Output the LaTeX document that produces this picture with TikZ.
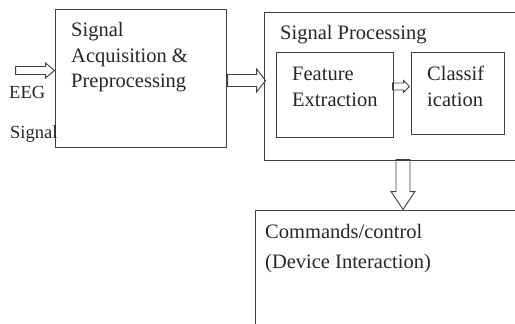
\documentclass[tikz,border=0pt]{standalone}
\usepackage{fontspec}
\setmainfont{Liberation Serif}
\begin{document}
\begin{tikzpicture}[x=1pt,y=-1pt,
  box/.style={draw=black!75, line width=0.9pt, inner sep=0pt, rectangle},
  txt/.style={anchor=base west, inner sep=0pt, text=black!85, font=\fontsize{20.5}{24}\selectfont},
  small/.style={anchor=base west, inner sep=0pt, text=black!85, font=\fontsize{18.5}{22}\selectfont},
  hollow/.style={draw=black!75, line width=0.9pt, line join=miter}]
\useasboundingbox (0,0) rectangle (515,324);
\clip (0,0) rectangle (515,324);
% boxes
\node[box, minimum width=171pt, minimum height=138pt] (b1) at (140.5,78) {};
\node[box, minimum width=266pt, minimum height=148pt] (b2) at (397,86) {};
\node[box, minimum width=117pt, minimum height=85pt] (fe) at (334.5,94.5) {};
\node[box, minimum width=93pt, minimum height=82pt] (cl) at (457.5,93) {};
\node[box, minimum width=275pt, minimum height=120pt] (b3) at (392.5,270) {};
% texts
\node[txt] (t1a) at (71,37) {Signal};
\node[txt] (t1b) at (71,63) {Acquisition \&};
\node[txt] (t1c) at (71,87) {Preprocessing};
\node[txt] (t2) at (280,39) {Signal Processing};
\node[txt] (t3a) at (292,80) {Feature};
\node[txt] (t3b) at (292,106) {Extraction};
\node[txt] (t4a) at (427,80) {Classif};
\node[txt] (t4b) at (427,106) {ication};
\node[txt] (t5a) at (265,238) {Commands/control};
\node[txt] (t5b) at (265,268) {(Device Interaction)};
\node[small] (eeg) at (9,98) {EEG};
\node[small] (sig) at (10,138) {Signal};
% hollow arrows
\coordinate (a1) at (b1.west |- 0,70.5);
\draw[hollow] (a1) -- ++(-9,-7.5) -- ++(0,3.5) -- ++(-30,0) -- ++(0,8) -- ++(30,0) -- ++(0,3.5) -- cycle;
\coordinate (a2) at ([xshift=2pt]b2.west |- 0,80.5);
\draw[hollow] (a2) -- ++(-9,-11.5) -- ++(0,5.5) -- ++(-29,0) -- ++(0,12) -- ++(29,0) -- ++(0,5.5) -- cycle;
\coordinate (a3) at ([xshift=-1pt]cl.west |- 0,86.5);
\draw[hollow] (a3) -- ++(-6,-6) -- ++(0,2.5) -- ++(-11,0) -- ++(0,7) -- ++(11,0) -- ++(0,2.5) -- cycle;
\coordinate (a4) at (403,0 |- b3.north);
\draw[hollow] (a4) -- ++(-12,-18) -- ++(5,0) -- ++(0,-32) -- ++(14,0) -- ++(0,32) -- ++(5,0) -- cycle;
\end{tikzpicture}
\end{document}
